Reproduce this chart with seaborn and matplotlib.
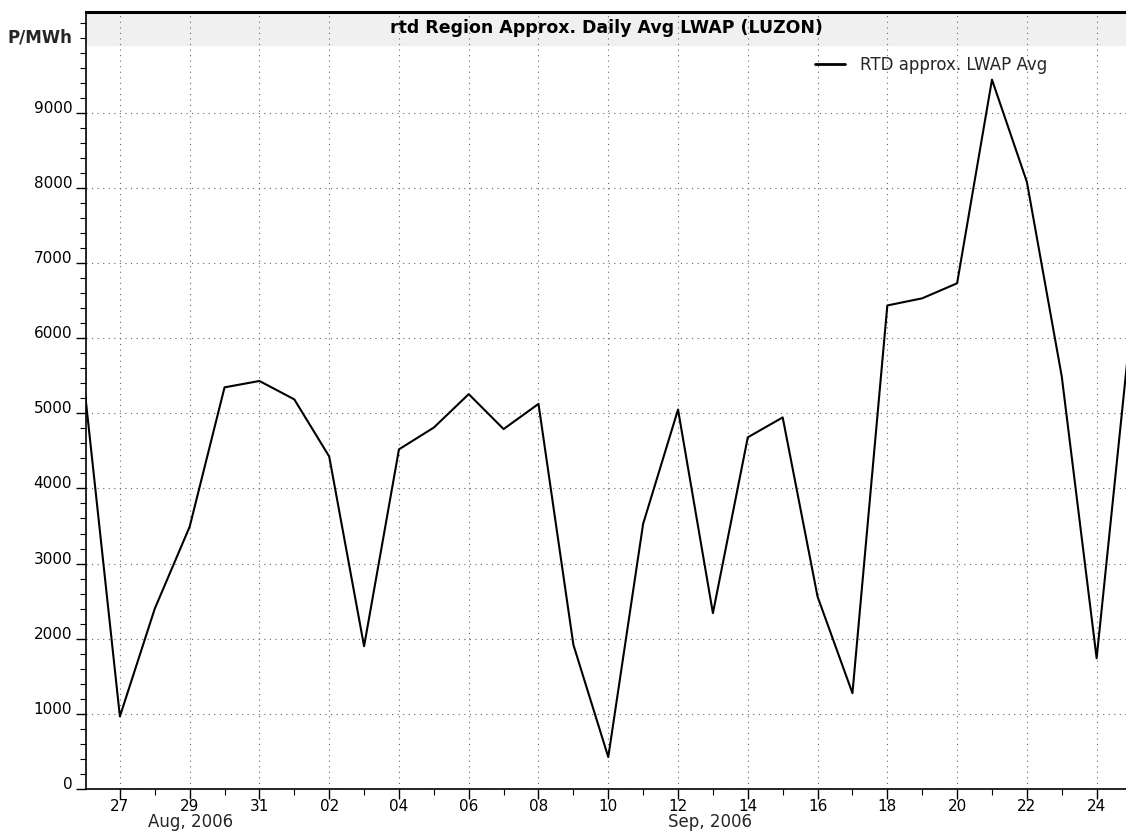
import numpy as np
import pandas as pd
import matplotlib
matplotlib.use("Agg")
import matplotlib.pyplot as plt
import matplotlib.dates as mdates
import matplotlib.transforms as mtransforms
import seaborn as sns

# ---- data ----
dates = pd.date_range("2006-08-26", "2006-09-25", freq="D")
lwap_avg = [5270, 965, 2400, 3490, 5345, 5430, 5185, 4425, 1900, 4520,
            4810, 5255, 4790, 5125, 1920, 425, 3530, 5050, 2340, 4680,
            4945, 2560, 1275, 6435, 6530, 6730, 9440, 8080, 5490, 1740,
            6250]
series_name = "RTD approx. LWAP Avg"
title = "rtd Region Approx. Daily Avg LWAP (LUZON)"
y_unit = "P/MWh"
y_major = [0, 1000, 2000, 3000, 4000, 5000, 6000, 7000, 8000, 9000]
month_labels = ["Aug, 2006", "Sep, 2006"]

df = pd.DataFrame({"date": dates, "value": lwap_avg, "series": series_name})

sns.set_style("white")
plt.rcParams["font.family"] = ["DejaVu Sans"]

fig = plt.figure(figsize=(11.26, 8.35), dpi=100)
ax = fig.add_axes([0.0764, 0.0551, 0.9236, 0.9305])

sns.lineplot(data=df, x="date", y="value", hue="series", palette=["black"],
             linewidth=1.5, ax=ax, legend=False)

x_left = pd.Timestamp("2006-08-26") + pd.Timedelta(hours=0.7)
x_right = pd.Timestamp("2006-09-24") + pd.Timedelta(hours=20.2)
ax.set_xlim(x_left, x_right)
ax.set_ylim(0, 10340)

# ticks
major_dates = pd.date_range("2006-08-27", "2006-09-24", freq="2D")
ax.set_xticks(mdates.date2num(major_dates))
ax.xaxis.set_major_formatter(mdates.DateFormatter("%d"))
ax.xaxis.set_minor_locator(mdates.DayLocator())
ax.set_yticks(y_major)
ax.yaxis.set_minor_locator(matplotlib.ticker.MultipleLocator(200))

ax.tick_params(axis="both", which="major", direction="out", length=7, width=1,
               color="black", labelsize=11, bottom=True, left=True,
               labelcolor="black")
ax.tick_params(axis="x", which="major", pad=0)
ax.tick_params(axis="y", which="major", pad=3)
ax.tick_params(axis="both", which="minor", direction="out", length=4, width=0.8,
               color="black", bottom=True, left=True)
for lbl in ax.get_yticklabels():
    lbl.set_verticalalignment("baseline")

ax.set_xlabel("")
ax.set_ylabel("")

# grid
ax.grid(True, which="major", axis="both", linestyle=(0, (1, 4)), color="#666666",
        linewidth=0.8)

# spines
for s in ["left", "bottom"]:
    ax.spines[s].set_color("black")
    ax.spines[s].set_linewidth(1.2)
ax.spines["top"].set_color("black")
ax.spines["top"].set_linewidth(2.2)
ax.spines["right"].set_visible(False)

# title band inside the plot
ax.axhspan(9900, 10340, color="#f0f0f0", zorder=0)
ax.text(0.5, 0.979, title, transform=ax.transAxes, ha="center", va="center",
        fontsize=12.5, fontweight="bold", color="black")

# unit label
fig.text(0.007, 0.955, y_unit, ha="left", va="center", fontsize=12,
         fontweight="bold")

# legend
ax.legend(handles=[matplotlib.lines.Line2D([], [], color="black", lw=2)],
          labels=[series_name], loc="upper left", bbox_to_anchor=(0.701, 0.944),
          frameon=False, fontsize=12, handlelength=1.8, handletextpad=0.9,
          borderpad=0, borderaxespad=0)

# month labels centered in visible span of each month
trans = mtransforms.blended_transform_factory(ax.transData, fig.transFigure)
sep1 = pd.Timestamp("2006-09-01")
aug_c = mdates.date2num(x_left) + (mdates.date2num(sep1) - mdates.date2num(x_left)) / 2
sep_c = mdates.date2num(sep1) + (mdates.date2num(x_right) - mdates.date2num(sep1)) / 2
ax.text(aug_c, 0.015, month_labels[0], transform=trans, ha="center",
        va="center", fontsize=12)
ax.text(sep_c, 0.015, month_labels[1], transform=trans, ha="center",
        va="center", fontsize=12)

fig.savefig("out.png", dpi=100)
